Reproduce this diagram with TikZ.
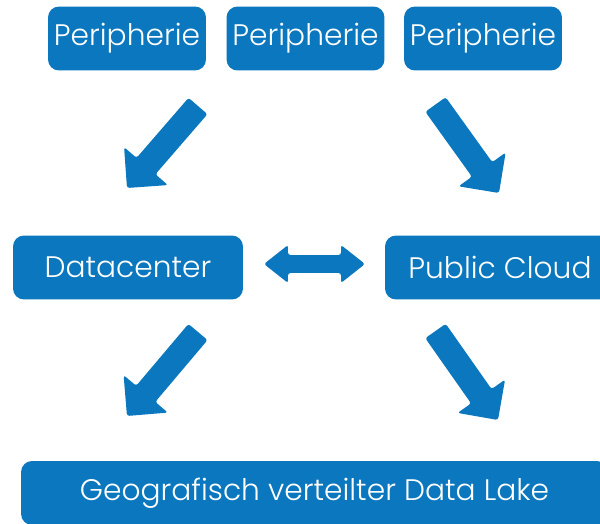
\documentclass[tikz,border=0pt]{standalone}
\usepackage{fontspec}
\setmainfont{Poppins}[UprightFont=* Light]
\usetikzlibrary{positioning, calc}
\definecolor{cloudblue}{RGB}{11,119,190}

% block arrow from tail (#1) to tip (#2)
\newcommand{\blockarrow}[2]{%
  \coordinate (ba-base) at ($(#2)!0.58cm!(#1)$);
  \fill[arrowbody] ($(#1)!0.25cm!90:(#2)$) -- ($(ba-base)!0.25cm!90:(#2)$)
    -- ($(ba-base)!0.58cm!90:(#2)$) -- (#2) -- ($(ba-base)!0.58cm!-90:(#2)$)
    -- ($(ba-base)!0.25cm!-90:(#2)$) -- ($(#1)!0.25cm!-90:(#2)$) -- cycle;
}

\begin{document}
\begin{tikzpicture}[x=0.02cm, y=-0.02cm]
  \tikzset{
    bluebox/.style={fill=cloudblue, rounded corners=0.22cm, minimum height=1.28cm,
      text=white, font=\fontsize{16.9}{20}\selectfont, inner sep=0pt},
    arrowbody/.style={fill=cloudblue, rounded corners=0.05cm}
  }
  \useasboundingbox (0,0) rectangle (600,524);
  \clip (0,0) rectangle (600,524);

  \node[bluebox, minimum width=3.16cm] (peri1) at (127,38.5)  {Peripherie};
  \node[bluebox, minimum width=3.16cm] (peri2) at (305.5,38.5) {Peripherie};
  \node[bluebox, minimum width=3.16cm] (peri3) at (483,38.5)  {Peripherie};

  \node[bluebox, minimum width=4.6cm] (dc)    at (128,267.5) {Datacenter};
  \node[bluebox, minimum width=4.6cm] (cloud) at (500,267.5) {Public Cloud};

  \node[bluebox, minimum width=11.74cm] (lake) at (314.5,493) {Geografisch verteilter Data Lake};

  % arrows
  \coordinate (ul-tail) at (198,106);   \coordinate (ul-tip) at (127,188);
  \coordinate (ur-tail) at (435.5,104.5); \coordinate (ur-tip) at (499,193);
  \coordinate (ll-tail) at (198,332);   \coordinate (ll-tip) at (127,416);
  \coordinate (lr-tail) at (435.5,331); \coordinate (lr-tip) at (498,420);
  \blockarrow{ul-tail}{ul-tip}
  \blockarrow{ur-tail}{ur-tip}
  \blockarrow{ll-tail}{ll-tip}
  \blockarrow{lr-tail}{lr-tip}

  % double arrow between datacenter and cloud
  \coordinate (da-left) at (264,264);
  \coordinate (da-right) at (365,264);
  \coordinate (da-l) at ($(da-left)!0.48cm!(da-right)$);
  \coordinate (da-r) at ($(da-right)!0.48cm!(da-left)$);
  \fill[arrowbody] (da-left) -- ($(da-l)!0.38cm!90:(da-right)$) -- ($(da-l)!0.18cm!90:(da-right)$)
    -- ($(da-r)!0.18cm!-90:(da-left)$) -- ($(da-r)!0.38cm!-90:(da-left)$) -- (da-right)
    -- ($(da-r)!0.38cm!90:(da-left)$) -- ($(da-r)!0.18cm!90:(da-left)$)
    -- ($(da-l)!0.18cm!-90:(da-right)$) -- ($(da-l)!0.38cm!-90:(da-right)$) -- cycle;
\end{tikzpicture}
\end{document}
